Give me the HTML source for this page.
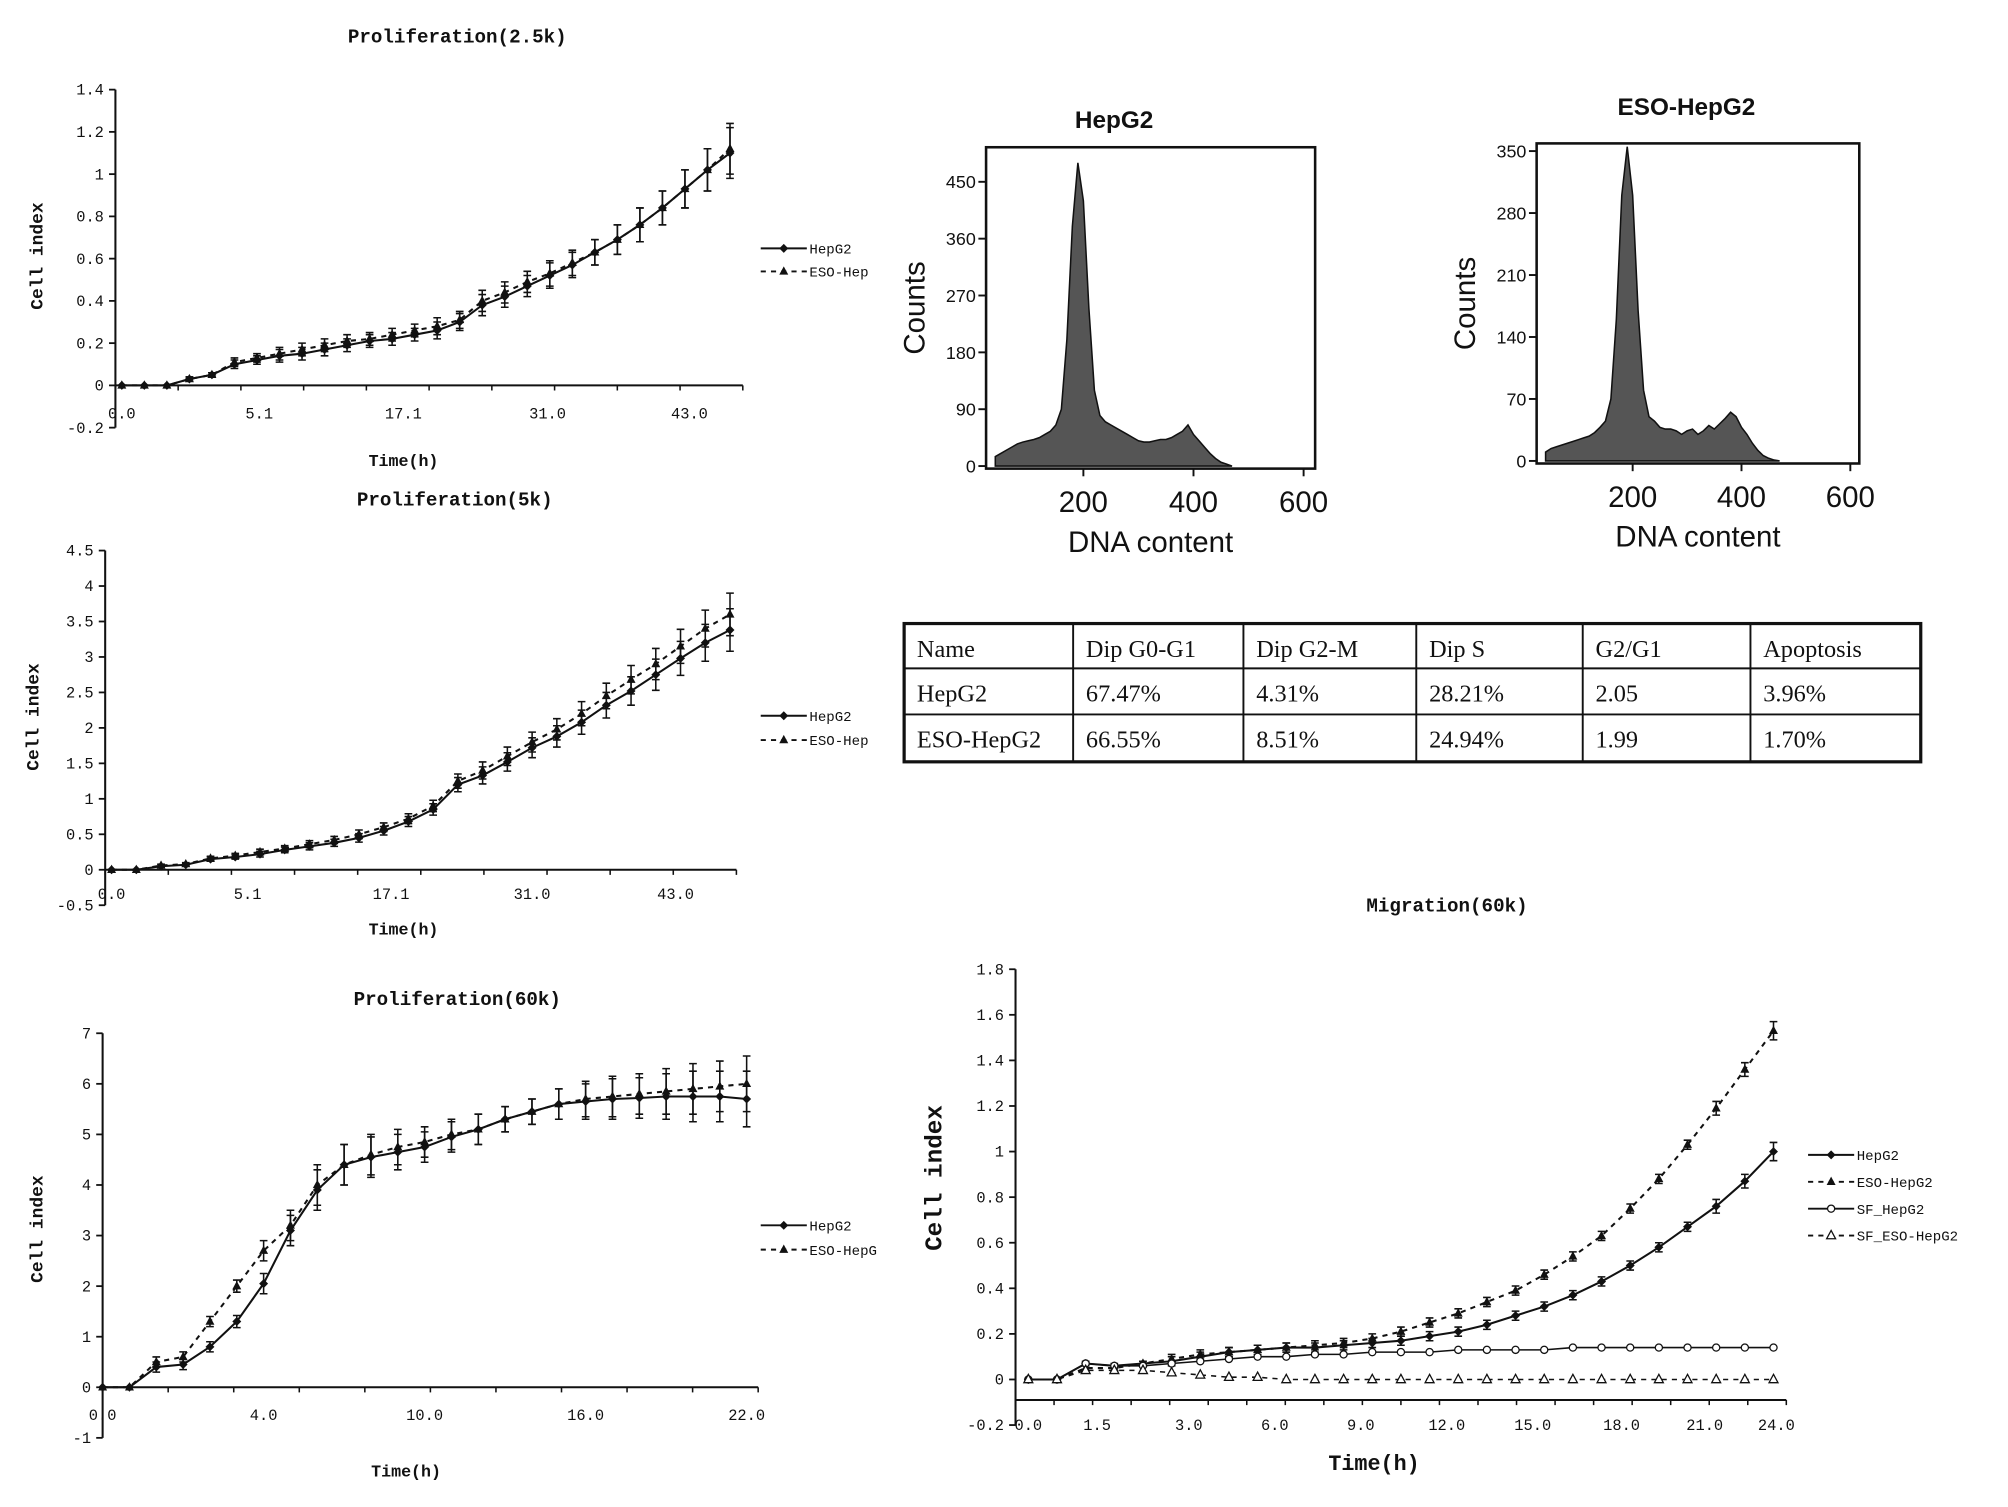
<!DOCTYPE html>
<html><head><meta charset="utf-8"><style>
html,body{margin:0;padding:0;background:#fff;}
svg{display:block;}
text{font-family:"Liberation Mono","DejaVu Sans Mono",monospace;fill:#111;}
.t{font-weight:bold;}
.ar{font-family:"Liberation Sans",sans-serif;}
.sr{font-family:"Liberation Serif",serif;}
</style></head><body>
<svg id="fig" width="2008" height="1507" viewBox="0 0 1568 1177" xmlns="http://www.w3.org/2000/svg">
<g id="table"></g>
</svg>
<script>
// ---- Proliferation 2.5k ----
const p1Ticks = ["0.0","5.1","17.1","31.0","43.0"];
const p1TickIdx = [0,6.1,12.5,18.9,25.2];
const p1Hep = [0,0,0,0.03,0.05,0.1,0.12,0.14,0.15,0.17,0.19,0.21,0.22,0.24,0.26,0.3,0.38,0.42,0.47,0.52,0.57,0.63,0.69,0.76,0.84,0.93,1.02,1.1];
const p1Eso = [0,0,0,0.03,0.05,0.11,0.13,0.15,0.17,0.19,0.21,0.22,0.24,0.26,0.28,0.31,0.4,0.44,0.49,0.53,0.58,0.63,0.69,0.76,0.84,0.93,1.02,1.12];
const p1Err = [0,0,0,0.01,0.01,0.02,0.02,0.03,0.03,0.03,0.03,0.03,0.03,0.03,0.04,0.04,0.05,0.05,0.05,0.06,0.06,0.06,0.07,0.08,0.08,0.09,0.1,0.12];
// ---- Proliferation 5k ----
const p2Ticks = ["0.0","5.1","17.1","31.0","43.0"];
const p2TickIdx = [0,5.5,11.3,17,22.8];
const p2Hep = [0,0,0.05,0.07,0.15,0.18,0.22,0.28,0.33,0.38,0.45,0.55,0.68,0.85,1.2,1.33,1.52,1.72,1.88,2.08,2.32,2.52,2.75,2.98,3.2,3.38];
const p2Eso = [0,0,0.06,0.08,0.16,0.2,0.25,0.3,0.36,0.42,0.5,0.6,0.72,0.9,1.25,1.4,1.6,1.8,1.98,2.2,2.45,2.68,2.9,3.15,3.4,3.6];
const p2Err = [0,0,0.02,0.02,0.03,0.03,0.04,0.04,0.05,0.05,0.06,0.06,0.07,0.08,0.1,0.12,0.13,0.14,0.15,0.17,0.18,0.2,0.22,0.24,0.26,0.3];
// ---- Proliferation 60k ----
const p3Ticks = ["0.0","4.0","10.0","16.0","22.0"];
const p3TickIdx = [0,6,12,18,24];
const p3Hep = [0,0,0.4,0.45,0.8,1.3,2.05,3.1,3.9,4.4,4.55,4.65,4.75,4.95,5.1,5.3,5.45,5.6,5.65,5.7,5.72,5.75,5.75,5.75,5.7];
const p3Eso = [0,0,0.5,0.6,1.3,2.0,2.7,3.2,4.0,4.4,4.6,4.75,4.85,5.0,5.1,5.3,5.45,5.6,5.7,5.75,5.8,5.85,5.9,5.95,6.0];
const p3Err = [0,0,0.1,0.1,0.1,0.12,0.2,0.3,0.4,0.4,0.4,0.35,0.3,0.3,0.3,0.25,0.25,0.3,0.35,0.4,0.4,0.45,0.5,0.5,0.55];
// ---- Migration 60k ----
const p4Ticks = ["0.0","1.5","3.0","6.0","9.0","12.0","15.0","18.0","21.0","24.0"];
const p4TickIdx = [0,2.4,5.6,8.6,11.6,14.6,17.6,20.7,23.6,26.1];
const p4Hep = [0,0,0.07,0.06,0.07,0.08,0.1,0.12,0.13,0.14,0.14,0.15,0.16,0.17,0.19,0.21,0.24,0.28,0.32,0.37,0.43,0.5,0.58,0.67,0.76,0.87,1.0];
const p4Eso = [0,0,0.05,0.05,0.07,0.09,0.11,0.12,0.13,0.14,0.15,0.16,0.18,0.21,0.25,0.29,0.34,0.39,0.46,0.54,0.63,0.75,0.88,1.03,1.19,1.36,1.53];
const p4Sf = [0,0,0.07,0.06,0.06,0.07,0.08,0.09,0.1,0.1,0.11,0.11,0.12,0.12,0.12,0.13,0.13,0.13,0.13,0.14,0.14,0.14,0.14,0.14,0.14,0.14,0.14];
const p4SfEso = [0,0,0.04,0.04,0.04,0.03,0.02,0.01,0.01,0,0,0,0,0,0,0,0,0,0,0,0,0,0,0,0,0,0];
const p4Err = [0,0,0.01,0.01,0.01,0.02,0.02,0.02,0.02,0.02,0.02,0.02,0.02,0.02,0.02,0.02,0.02,0.02,0.02,0.02,0.02,0.02,0.02,0.02,0.03,0.03,0.04];
// ---- Histograms ----
const histBins = [40,50,60,70,80,90,100,110,120,130,140,150,160,170,180,190,200,210,220,230,240,250,260,270,280,290,300,310,320,330,340,350,360,370,380,390,400,410,420,430,440,450,460,470];
const histHep = [15,20,25,30,35,38,40,42,45,50,55,65,90,200,380,480,420,250,120,80,70,65,60,55,50,45,40,38,38,40,42,42,45,50,55,65,50,40,30,20,12,6,3,0];
const histEso = [10,14,16,18,20,22,24,26,28,32,38,45,70,160,300,355,300,170,80,50,45,38,36,36,34,30,34,36,30,34,40,36,42,48,55,50,38,30,20,12,6,3,1,0];
const histTicksX = [200,400,600];
const histTicksHep = [0,90,180,270,360,450];
const histTicksEso = [0,70,140,210,280,350];
// ---- Table ----
const tableRows = [["Name","Dip G0-G1","Dip G2-M","Dip S","G2/G1","Apoptosis"],["HepG2","67.47%","4.31%","28.21%","2.05","3.96%"],["ESO-HepG2","66.55%","8.51%","24.94%","1.99","1.70%"]];

const NS="http://www.w3.org/2000/svg";
const fig=document.getElementById('fig');
function mk(tag,attrs,parent,txt){const e=document.createElementNS(NS,tag);for(const k in attrs)e.setAttribute(k,attrs[k]);if(txt!==undefined)e.textContent=txt;(parent||fig).appendChild(e);return e;}

function marker(g,x,y,type){
  let m;
  if(type==='diamond'){m=mk('path',{d:`M${x} ${y-3.5}L${x+3.5} ${y}L${x} ${y+3.5}L${x-3.5} ${y}Z`,fill:'#111'},g);}
  else if(type==='tri'){m=mk('path',{d:`M${x} ${y-4}L${x+3.5} ${y+2.5}L${x-3.5} ${y+2.5}Z`,fill:'#111'},g);}
  else if(type==='circ'){m=mk('circle',{cx:x,cy:y,r:2.8,fill:'#fff',stroke:'#111','stroke-width':1},g);}
  else {m=mk('path',{d:`M${x} ${y-4}L${x+3.5} ${y+2.5}L${x-3.5} ${y+2.5}Z`,fill:'#fff',stroke:'#111','stroke-width':1},g);}
  
  
}

function lineChart(c){
  const g=mk('g',{},fig);
  
  
  const ys=v=>c.y0-(v-c.vmin)/(c.vmax-c.vmin)*(c.y0-c.y1);
  const xs=i=>c.xa+i*c.dx;
  const t=mk('text',{x:c.titleX,y:c.titleY,'text-anchor':'middle','font-size':15,class:'t'},g,c.title);
  
  
  const ya=mk('line',{x1:c.ax,y1:c.y1,x2:c.ax,y2:c.y0,stroke:'#111','stroke-width':1.6},g);
  
  
  for(let v=c.vmin;v<=c.vmax+1e-9;v+=c.step){
    const y=ys(v);
    mk('line',{x1:c.ax-5,y1:y,x2:c.ax,y2:y,stroke:'#111','stroke-width':1.4},g);
    const lab=mk('text',{x:c.ax-9,y:y+4,'text-anchor':'end','font-size':12},g,(Math.round(v*10)/10).toString());
    
    
  }
  const xy=ys(c.xAxisVal);
  const xa=mk('line',{x1:c.ax,y1:xy,x2:c.xEnd,y2:xy,stroke:'#111','stroke-width':1.6},g);
  
  
  c.ticks.forEach((lb,k)=>{
    const x=xs(c.tickIdx[k]);
    mk('line',{x1:x,y1:xy,x2:x,y2:xy+5},g);
    const e=mk('text',{x:x,y:c.tickY,'text-anchor':'middle','font-size':12},g,lb);
    
    
  });
  for(let k=0;k<=c.ticks.length*2;k++){const x=c.ax+(c.xEnd-c.ax)*k/(c.ticks.length*2);mk('line',{x1:x,y1:xy,x2:x,y2:xy+4,stroke:'#111','stroke-width':1.2},g);}
  const xt=mk('text',{x:c.xtX,y:c.xtY,'text-anchor':'middle','font-size':c.big?17:13,class:'t'},g,'Time(h)');
  
  
  const yt=mk('text',{x:c.ytX,y:c.ytY,'text-anchor':'middle','font-size':c.big?19:14,class:'t',transform:`rotate(-90 ${c.ytX} ${c.ytY})`},g,'Cell index');
  
  
  c.series.forEach(s=>{
    const pts=s.vals.map((v,i)=>xs(i)+','+ys(v)).join(' ');
    const pl=mk('polyline',{points:pts,fill:'none',stroke:'#111','stroke-width':s.w||1.6,'stroke-dasharray':s.dash?'4 4':'none'},g);
    
    
    s.vals.forEach((v,i)=>{
      const x=xs(i),y=ys(v);
      if(s.err&&s.err[i]>0){
        const e=s.err[i];
        mk('path',{d:`M${x} ${ys(v-e)}V${ys(v+e)}M${x-3} ${ys(v-e)}H${x+3}M${x-3} ${ys(v+e)}H${x+3}`,stroke:'#111','stroke-width':1.2,fill:'none'},g);
      }
      marker(g,x,y,s.m);
    });
  });
  c.legend.forEach((l,k)=>{
    const y=c.legY+k*c.legDy;
    const lg=mk('g',{},g);
    
    
    mk('line',{x1:c.legX,y1:y,x2:c.legX+36,y2:y,stroke:'#111','stroke-width':1.5,'stroke-dasharray':l.dash?'4 4':'none'},lg);
    marker(lg,c.legX+18,y,l.m);
    mk('text',{x:c.legX+38,y:y+4,'font-size':11},lg,l.label);
  });
}

lineChart({name:'chart-proliferation-2-5k',title:'Proliferation(2.5k)',titleX:357,titleY:33,ax:90,y0:334,y1:70,vmin:-0.2,vmax:1.4,step:0.2,xAxisVal:0,xEnd:580,xa:95,dx:(570-95)/27,ticks:p1Ticks,tickIdx:p1TickIdx,tickY:327,xtX:315,xtY:364,ytX:33,ytY:200,
  series:[{key:'hepg2',vals:p1Hep,m:'diamond',err:p1Err},{key:'eso-hepg2',vals:p1Eso,m:'tri',dash:1,err:p1Err}],
  legend:[{label:'HepG2',m:'diamond'},{label:'ESO-Hep',m:'tri',dash:1}],legX:594,legY:194,legDy:18});
lineChart({name:'chart-proliferation-5k',title:'Proliferation(5k)',titleX:355,titleY:395,ax:82,y0:707,y1:430,vmin:-0.5,vmax:4.5,step:0.5,xAxisVal:0,xEnd:575,xa:87,dx:(570-87)/25,ticks:p2Ticks,tickIdx:p2TickIdx,tickY:702,xtX:315,xtY:730,ytX:30,ytY:560,
  series:[{key:'hepg2',vals:p2Hep,m:'diamond',err:p2Err},{key:'eso-hepg2',vals:p2Eso,m:'tri',dash:1,err:p2Err}],
  legend:[{label:'HepG2',m:'diamond'},{label:'ESO-Hep',m:'tri',dash:1}],legX:594,legY:559,legDy:19});
lineChart({name:'chart-proliferation-60k',title:'Proliferation(60k)',titleX:357,titleY:785,ax:80,y0:1123,y1:807,vmin:-1,vmax:7,step:1,xAxisVal:0,xEnd:592,xa:80,dx:(583-80)/24,ticks:p3Ticks,tickIdx:p3TickIdx,tickY:1109,xtX:317,xtY:1153,ytX:33,ytY:960,
  series:[{key:'hepg2',vals:p3Hep,m:'diamond',err:p3Err},{key:'eso-hepg2',vals:p3Eso,m:'tri',dash:1,err:p3Err}],
  legend:[{label:'HepG2',m:'diamond'},{label:'ESO-HepG',m:'tri',dash:1}],legX:594,legY:957,legDy:19});
lineChart({name:'chart-migration-60k',title:'Migration(60k)',titleX:1130,titleY:712,ax:793,y0:1113,y1:757,vmin:-0.2,vmax:1.8,step:0.2,xAxisVal:-0.09,xEnd:1395,xa:803,dx:(1385-803)/26,ticks:p4Ticks,tickIdx:p4TickIdx,tickY:1117,xtX:1073,xtY:1148,ytX:735,ytY:920,big:1,
  series:[{key:'hepg2',vals:p4Hep,m:'diamond',err:p4Err},{key:'eso-hepg2',vals:p4Eso,m:'tri',dash:1,err:p4Err},{key:'sf-hepg2',vals:p4Sf,m:'circ',w:1.2},{key:'sf-eso-hepg2',vals:p4SfEso,m:'otri',dash:1,w:1.2}],
  legend:[{label:'HepG2',m:'diamond'},{label:'ESO-HepG2',m:'tri',dash:1},{label:'SF_HepG2',m:'circ'},{label:'SF_ESO-HepG2',m:'otri',dash:1}],legX:1412,legY:902,legDy:21});

function hist(c){
  const g=mk('g',{},fig);
  
  
  const xs=v=>c.x0px+v*c.kx;
  const ys=v=>c.y0px-v*c.ky;
  const t=mk('text',{x:c.titleX,y:c.titleY,'text-anchor':'middle','font-size':19,class:'t ar'},g,c.title);
  
  
  let d=`M${xs(c.bins[0])} ${ys(0)}`;
  c.bins.forEach((b,i)=>{d+=`L${xs(b)} ${ys(c.vals[i])}`;});
  d+=`L${xs(c.bins[c.bins.length-1])} ${ys(0)}Z`;
  const area=mk('path',{d:d,fill:'#555',stroke:'#111','stroke-width':1.2},g);
  
  
  const box=mk('rect',{x:c.bx,y:c.by,width:c.bw,height:c.bh,fill:'none',stroke:'#111','stroke-width':2},g);
  
  
  c.yt.forEach(v=>{const y=ys(v);mk('line',{x1:c.bx-6,y1:y,x2:c.bx,y2:y,stroke:'#111','stroke-width':1.5},g);
    const e=mk('text',{x:c.bx-8,y:y+5,'text-anchor':'end','font-size':14,class:'ar'},g,String(v));
    
    });
  c.xt.forEach(v=>{const x=xs(v);mk('line',{x1:x,y1:c.by+c.bh,x2:x,y2:c.by+c.bh+6,stroke:'#111','stroke-width':1.5},g);
    const e=mk('text',{x:x,y:c.by+c.bh+34,'text-anchor':'middle','font-size':23,class:'ar'},g,String(v));
    
    });
  const xl=mk('text',{x:c.bx+c.bw/2,y:c.by+c.bh+65,'text-anchor':'middle','font-size':23,class:'ar'},g,'DNA content');
  
  
  const yl=mk('text',{x:c.bx-48,y:c.by+c.bh/2,'text-anchor':'middle','font-size':23,class:'ar',transform:`rotate(-90 ${c.bx-48} ${c.by+c.bh/2})`},g,'Counts');
  
  
}
hist({name:'histogram-hepg2',title:'HepG2',titleX:870,titleY:100,bins:histBins,vals:histHep,x0px:760,kx:0.43,y0px:364,ky:(364-142)/450,bx:770,by:115,bw:257,bh:251,yt:histTicksHep,xt:histTicksX});
hist({name:'histogram-eso-hepg2',title:'ESO-HepG2',titleX:1317,titleY:90,bins:histBins,vals:histEso,x0px:1190,kx:0.425,y0px:360,ky:(360-118)/350,bx:1200,by:112,bw:252,bh:250,yt:histTicksEso,xt:histTicksX});

// table
(function(){
  const g=document.getElementById('table');
  const cols=[706,838,971,1106,1236,1367,1500];
  const rows=[487,522,558,595];
  mk('rect',{x:706,y:487,width:794,height:108,fill:'none',stroke:'#111','stroke-width':2.5},g);
  cols.slice(1,-1).forEach(x=>mk('line',{x1:x,y1:487,x2:x,y2:595,stroke:'#111','stroke-width':1.5},g));
  rows.slice(1,-1).forEach(y=>mk('line',{x1:706,y1:y,x2:1500,y2:y,stroke:'#111','stroke-width':1.5},g));
  tableRows.forEach((r,i)=>r.forEach((cell,j)=>{
    const e=mk('text',{x:cols[j]+10,y:rows[i]+26,'font-size':19,class:'sr'},g,cell);
    
    
  }));
})();
</script>
</body></html>
